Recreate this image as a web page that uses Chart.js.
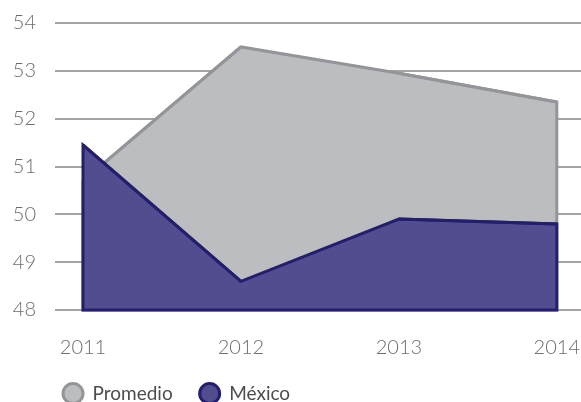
<!DOCTYPE html>
<html lang="es">
<head>
    <meta charset="UTF-8">
    <title>Promedio vs México</title>
    <script src="https://cdn.jsdelivr.net/npm/chart.js"></script>
    <style>
        html, body { margin: 0; padding: 0; background: white; overflow: hidden; }
    </style>
</head>
<body>
    <canvas id="areaChart" width="620" height="442"></canvas>

    <script>
        // Valores
        const years = [2011, 2012, 2013, 2014];
        const promedio = [50.7, 53.5, 52.95, 52.35];
        const mexico = [51.45, 48.6, 49.9, 49.8];
        const yTicks = [48, 49, 50, 51, 52, 53, 54];

        const toPoints = values => years.map((y, i) => ({ x: y, y: values[i] }));

        // Cierra el área con bordes verticales y base, como en el original
        const areaEdges = {
            id: 'areaEdges',
            afterDatasetDraw(chart, args) {
                const ds = chart.data.datasets[args.index];
                const pts = args.meta.data;
                const bottom = chart.chartArea.bottom;
                const first = pts[0], last = pts[pts.length - 1];
                const ctx = chart.ctx;
                ctx.save();
                ctx.strokeStyle = ds.borderColor;
                ctx.lineWidth = ds.borderWidth;
                ctx.lineJoin = 'miter';
                ctx.beginPath();
                ctx.moveTo(pts[1].x, pts[1].y);
                ctx.lineTo(first.x, first.y);
                ctx.lineTo(first.x, bottom);
                ctx.lineTo(last.x, bottom);
                ctx.lineTo(last.x, last.y);
                ctx.lineTo(pts[pts.length - 2].x, pts[pts.length - 2].y);
                ctx.stroke();
                ctx.restore();
            }
        };

        // Desplaza la leyenda para alinearla con el original
        const legendShift = {
            id: 'legendShift',
            afterLayout(chart) {
                chart.legend.left += 36;
                chart.legend.top -= 29;
            }
        };

        const ctx = document.getElementById('areaChart').getContext('2d');
        new Chart(ctx, {
            type: 'line',
            data: {
                datasets: [{
                    label: 'México',
                    data: toPoints(mexico),
                    backgroundColor: '#524d8e',
                    borderColor: '#231e6f',
                    borderWidth: 3,
                    pointRadius: 0,
                    tension: 0,
                    fill: 'start'
                }, {
                    label: 'Promedio',
                    data: toPoints(promedio),
                    backgroundColor: '#bcbdc0',
                    borderColor: '#939598',
                    borderWidth: 3,
                    pointRadius: 0,
                    tension: 0,
                    fill: 'start'
                }]
            },
            plugins: [areaEdges, legendShift],
            options: {
                responsive: false,
                animation: false,
                layout: { padding: { top: 23, left: 0, right: 0, bottom: 0 } },
                scales: {
                    x: {
                        type: 'linear',
                        min: 2011,
                        max: 2014.4,
                        grid: { display: false, drawTicks: false },
                        border: { display: false },
                        afterBuildTicks: axis => {
                            axis.ticks = years.map(y => ({ value: y }));
                        },
                        ticks: {
                            padding: 26,
                            color: '#6d6e71',
                            font: { family: 'Lato', size: 20, weight: 300 },
                            callback: v => String(v),
                            maxRotation: 0
                        }
                    },
                    y: {
                        min: 48,
                        max: 54,
                        afterBuildTicks: axis => {
                            axis.ticks = yTicks.map(v => ({ value: v }));
                        },
                        afterFit: scale => {
                            scale.width = 83;
                            scale.paddingTop = 0;
                            scale.paddingBottom = 0;
                        },
                        grid: {
                            color: '#a3a3a3',
                            lineWidth: 2,
                            tickLength: 28
                        },
                        border: { display: false },
                        ticks: {
                            padding: 19,
                            color: '#6d6e71',
                            font: { family: 'Lato', size: 20, weight: 300 }
                        }
                    }
                },
                plugins: {
                    tooltip: { enabled: false },
                    legend: {
                        position: 'bottom',
                        align: 'start',
                        reverse: true,
                        labels: {
                            usePointStyle: true,
                            pointStyle: 'circle',
                            pointStyleWidth: 20,
                            boxHeight: 14,
                            padding: 27,
                            color: '#4d4d4f',
                            font: { family: 'Lato', size: 19 }
                        }
                    }
                }
            }
        });
    </script>
</body>
</html>
